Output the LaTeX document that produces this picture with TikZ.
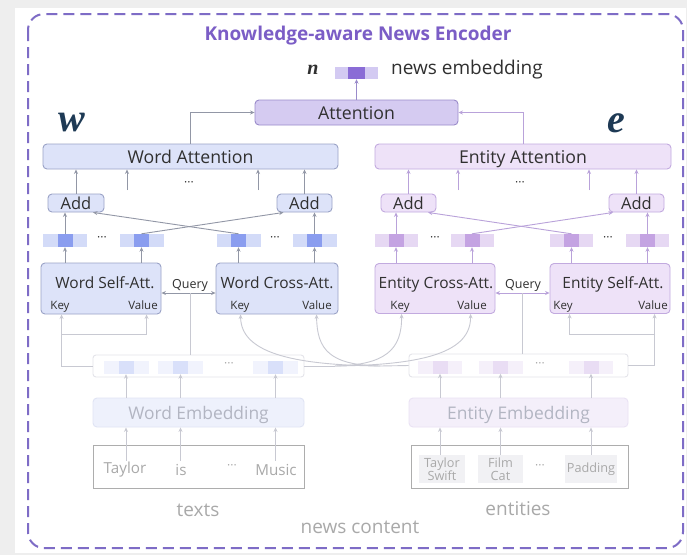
\documentclass[tikz,border=0pt]{standalone}
\usepackage{fontspec}
\setmainfont{Open Sans}
\newfontfamily\symserif{Liberation Serif}
\usetikzlibrary{arrows.meta,calc}

\definecolor{bgray}{HTML}{EEEEEE}
\definecolor{framec}{HTML}{7E6CC6}
\definecolor{titlec}{HTML}{7B5DC6}
\definecolor{txt}{HTML}{303030}
\definecolor{symc}{HTML}{1E3A55}
\definecolor{wordfill}{HTML}{DDE3F9}
\definecolor{worddraw}{HTML}{9AA2C6}
\definecolor{entfill}{HTML}{EEE2F8}
\definecolor{entdraw}{HTML}{C2AADF}
\definecolor{attfill}{HTML}{D5CBF1}
\definecolor{attdraw}{HTML}{9A8BCA}
\definecolor{wvl}{HTML}{D3DBF8}
\definecolor{wvd}{HTML}{8A9DEF}
\definecolor{evl}{HTML}{E6D8F3}
\definecolor{evd}{HTML}{C4A3E2}
\definecolor{nvl}{HTML}{D3CAF2}
\definecolor{nvd}{HTML}{8A6CD6}
\definecolor{wline}{HTML}{9297A6}
\definecolor{eline}{HTML}{B9A2DA}
\definecolor{fwvl}{HTML}{F1F3FD}
\definecolor{fwvd}{HTML}{D9E0FA}
\definecolor{fevl}{HTML}{F5F0FA}
\definecolor{fevd}{HTML}{E9DDF4}
\definecolor{frow}{HTML}{E4E4EA}
\definecolor{fwembfill}{HTML}{EEF1FC}
\definecolor{fwembdraw}{HTML}{E0E4F4}
\definecolor{feembfill}{HTML}{F4EFFA}
\definecolor{feembdraw}{HTML}{EAE2F4}
\definecolor{fembtxt}{HTML}{B2B5C2}
\definecolor{ftxtbox}{HTML}{ADADAD}
\definecolor{ftxt}{HTML}{A9A9A9}
\definecolor{fline}{HTML}{C8C9D2}
\definecolor{fcell}{HTML}{F1F1F4}

\tikzset{
  fs/.style={font=\fontsize{#1}{#1}\selectfont},
  tip/.style={-{Stealth[length=4.5pt,width=4pt]}},
  boxtext/.style={text height=13pt, text depth=0pt},
  wbox/.style={draw=worddraw, fill=wordfill, rounded corners=4pt, line width=0.9pt,
    inner sep=0pt, text=txt, boxtext},
  ebox/.style={draw=entdraw, fill=entfill, rounded corners=4pt, line width=0.9pt,
    inner sep=0pt, text=txt, boxtext},
  abox/.style={draw=attdraw, fill=attfill, rounded corners=4pt, line width=0.9pt,
    inner sep=0pt, text=txt, boxtext},
  vbar/.style={fill=#1, inner sep=0pt, minimum height=13pt, minimum width=44pt},
  vsq/.style={fill=#1, inner sep=0pt, minimum height=13pt, minimum width=15pt},
  dots/.style={inner sep=0pt, fs=12, text=#1},
  warr/.style={draw=wline, line width=0.9pt, tip},
  earr/.style={draw=eline, line width=0.9pt, tip},
  farr/.style={draw=fline, line width=0.9pt, tip},
  fln/.style={draw=fline, line width=0.9pt},
  lbl/.style={inner sep=0pt, text=txt, text height=11pt, text depth=0pt},
  kv/.style={inner sep=0pt, text=txt, fs=11.5, text height=8.3pt, text depth=0pt},
  faint/.style={inner sep=0pt, text=ftxt},
}

\begin{document}
\begin{tikzpicture}[x=1pt,y=-1pt]
\useasboundingbox (0,0) rectangle (687,555);
\fill[bgray] (0,0) rectangle (687,555);
\fill[white] (15,8) rectangle (686,553);
\draw[framec, line width=2pt, dash pattern=on 11pt off 6pt, rounded corners=16pt]
  (28,14) rectangle (683,548);

% ---------- header ----------
\node[inner sep=0pt, text=titlec, font=\fontsize{19}{19}\selectfont\bfseries]
  (title) at (358,36) {Knowledge-aware News Encoder};
\node[vbar=nvl, minimum width=43pt, minimum height=12pt] (nv) at (356.5,73) {};
\node[vsq=nvd, minimum width=17pt, minimum height=12pt] (nvd) at (nv) {};
\node[inner sep=0pt, text=txt, font=\symserif\bfseries\itshape\fontsize{20}{20}\selectfont]
  (nsym) at (313,70) {n};
\node[inner sep=0pt, text=txt, anchor=west, fs=19] (nlab) at (391,70) {news embedding};
\node[abox, minimum width=203pt, minimum height=25pt, fs=17.7] (att) at (356.5,112.5) {Attention};

\node[inner sep=0pt, text=symc, font=\symserif\bfseries\itshape\fontsize{40}{40}\selectfont]
  (wsym) at (72,123) {w};
\node[inner sep=0pt, text=symc, font=\symserif\bfseries\itshape\fontsize{40}{40}\selectfont]
  (esym) at (616,123) {e};

% ---------- attention over the two branches ----------
\node[wbox, minimum width=295pt, minimum height=25pt, fs=17.7] (watt) at (190.5,156.5) {Word Attention};
\node[ebox, minimum width=296pt, minimum height=25pt, fs=17.7] (eatt) at (523,156.5) {Entity Attention};

\draw[warr] (watt.north) |- (att.west);
\draw[earr] (eatt.north) |- (att.east);
\draw[draw=attdraw, line width=0.9pt, tip] (att.north) -- (nv.south);

% ---------- add blocks ----------
\node[wbox, minimum width=56pt, minimum height=18pt, fs=16.5] (addWL) at (76,203) {Add};
\node[wbox, minimum width=55pt, minimum height=18pt, fs=16.5] (addWR) at (304.5,203) {Add};
\node[ebox, minimum width=55pt, minimum height=18pt, fs=16.5] (addEL) at (408.5,203) {Add};
\node[ebox, minimum width=55pt, minimum height=18pt, fs=16.5] (addER) at (636.5,203) {Add};

\draw[warr] (addWL.north) -- (addWL.north |- watt.south);
\draw[warr] (addWR.north) -- (addWR.north |- watt.south);
\draw[earr] (addEL.north) -- (addEL.north |- eatt.south);
\draw[earr] (addER.north) -- (addER.north |- eatt.south);

\coordinate (ws1) at (127,190);
\coordinate (ws2) at (258,190);
\coordinate (es1) at (458,190);
\coordinate (es2) at (589,190);
\draw[warr] (ws1) -- (ws1 |- watt.south);
\draw[warr] (ws2) -- (ws2 |- watt.south);
\draw[earr] (es1) -- (es1 |- eatt.south);
\draw[earr] (es2) -- (es2 |- eatt.south);
\node[dots=txt] (wd0) at (189,184) {···};
\node[dots=txt] (ed0) at (520,184) {···};

% ---------- per-token vectors ----------
\node[vbar=wvl] (wv1) at (65,240.5) {};    \node[vsq=wvd] (wv1d) at (wv1) {};
\node[vbar=wvl] (wv2) at (141.5,240.5) {}; \node[vsq=wvd] (wv2d) at (wv2) {};
\node[vbar=wvl] (wv3) at (238.5,240.5) {}; \node[vsq=wvd] (wv3d) at (wv3) {};
\node[vbar=wvl] (wv4) at (314.5,240.5) {}; \node[vsq=wvd] (wv4d) at (wv4) {};
\node[dots=txt] (wd1) at (102,239) {···};
\node[dots=txt] (wd2) at (275,239) {···};

\node[vbar=evl, minimum width=43pt] (ev1) at (396,240.5) {};   \node[vsq=evd] (ev1d) at (ev1) {};
\node[vbar=evl, minimum width=43pt] (ev2) at (472,240.5) {};   \node[vsq=evd] (ev2d) at (ev2) {};
\node[vbar=evl, minimum width=43pt] (ev3) at (571.5,240.5) {}; \node[vsq=evd] (ev3d) at (ev3) {};
\node[vbar=evl, minimum width=43pt] (ev4) at (647.5,240.5) {}; \node[vsq=evd] (ev4d) at (ev4) {};
\node[dots=txt] (ed1) at (435,239) {···};
\node[dots=txt] (ed2) at (608,239) {···};

\draw[warr] (wv1.north) -- (wv1.north |- addWL.south);
\draw[warr] (wv4.north) -- (wv4.north |- addWR.south);
\draw[warr] (wv3.north) -- ($(addWL.south)+(17,0)$);
\draw[warr] (wv2.north) -- ($(addWR.south)+(-21,0)$);
\draw[earr] (ev1.north) -- (ev1.north |- addEL.south);
\draw[earr] (ev4.north) -- (ev4.north |- addER.south);
\draw[earr] (ev3.north) -- ($(addEL.south)+(19.5,0)$);
\draw[earr] (ev2.north) -- ($(addER.south)+(-23.5,0)$);

% ---------- self / cross attention blocks ----------
\node[wbox, minimum width=120pt, minimum height=51pt] (wself) at (101,288.5) {};
\node[wbox, minimum width=122pt, minimum height=51pt] (wcross) at (277,288.5) {};
\node[ebox, minimum width=120pt, minimum height=50pt] (ecross) at (435,288.5) {};
\node[ebox, minimum width=120pt, minimum height=50pt] (eself) at (610,288.5) {};

\node[lbl, fs=15.5] (wselft) at (105,283) {Word Self-Att.};
\node[lbl, fs=15.5] (wcrosst) at (277,283) {Word Cross-Att.};
\node[lbl, fs=15.5] (ecrosst) at (436,283) {Entity Cross-Att.};
\node[lbl, fs=15.5] (eselft) at (613,283) {Entity Self-Att.};
\node[kv] (wsk) at (60,305) {Key};   \node[kv] (wsv) at (143,305) {Value};
\node[kv] (wck) at (240,305) {Key};  \node[kv] (wcv) at (317,305) {Value};
\node[kv] (eck) at (400,305) {Key};  \node[kv] (ecv) at (472,305) {Value};
\node[kv] (esk) at (563,305) {Key};  \node[kv] (esv) at (653,305) {Value};

\draw[warr] (wv1.south |- wself.north) -- (wv1.south);
\draw[warr] (wv2.south |- wself.north) -- (wv2.south);
\draw[warr] (wv3.south |- wcross.north) -- (wv3.south);
\draw[warr] (wv4.south |- wcross.north) -- (wv4.south);
\draw[earr] (ev1.south |- ecross.north) -- (ev1.south);
\draw[earr] (ev2.south |- ecross.north) -- (ev2.south);
\draw[earr] (ev3.south |- eself.north) -- (ev3.south);
\draw[earr] (ev4.south |- eself.north) -- (ev4.south);

% query links
\coordinate (qw) at (190.5,293);
\coordinate (qe) at (522.5,293);
\node[lbl, fs=12.5, text height=9pt] (qwl) at (190,284) {Query};
\node[lbl, fs=12.5, text height=9pt] (qel) at (523,284) {Query};
\draw[draw=wline, line width=0.9pt, {Stealth[length=4.5pt,width=4pt]}-{Stealth[length=4.5pt,width=4pt]}]
  (wself.east |- qw) -- (wcross.west |- qw);
\draw[draw=eline, line width=0.9pt, {Stealth[length=4.5pt,width=4pt]}-{Stealth[length=4.5pt,width=4pt]}]
  (ecross.east |- qe) -- (eself.west |- qe);

% ---------- embedding layers ----------
\node[draw=frow, fill=white, rounded corners=3pt, line width=0.9pt, minimum width=211pt,
  minimum height=22pt, inner sep=0pt] (wrow) at (198.5,366) {};
\node[vbar=fwvl, minimum width=45pt] (fwv1) at (126,367.5) {};   \node[vsq=fwvd] (fwv1d) at (fwv1) {};
\node[vbar=fwvl, minimum width=45pt] (fwv2) at (180.5,367.5) {}; \node[vsq=fwvd] (fwv2d) at (fwv2) {};
\node[vbar=fwvl, minimum width=45pt] (fwv3) at (275.5,367.5) {}; \node[vsq=fwvd] (fwv3d) at (fwv3) {};
\node[dots=ftxt] (fwd) at (229,365) {···};

\node[draw=frow, fill=white, rounded corners=3pt, line width=0.9pt, minimum width=219pt,
  minimum height=23pt, inner sep=0pt] (erow) at (518.5,365.5) {};
\node[vbar=fevl] (fev1) at (440,367) {};   \node[vsq=fevd] (fev1d) at (fev1) {};
\node[vbar=fevl] (fev2) at (500.5,367) {}; \node[vsq=fevd] (fev2d) at (fev2) {};
\node[vbar=fevl] (fev3) at (591,367) {};   \node[vsq=fevd] (fev3d) at (fev3) {};
\node[dots=ftxt] (fed) at (540,365) {···};

\node[draw=fwembdraw, fill=fwembfill, rounded corners=4pt, line width=0.9pt, minimum width=211pt,
  minimum height=29pt, inner sep=0pt, text=fembtxt, fs=17.4, boxtext] (wemb) at (198.5,412.5) {Word Embedding};
\node[draw=feembdraw, fill=feembfill, rounded corners=4pt, line width=0.9pt, minimum width=219pt,
  minimum height=29pt, inner sep=0pt, text=fembtxt, fs=17.4, boxtext] (eemb) at (518.5,412.5) {Entity Embedding};

% ---------- raw inputs ----------
\node[draw=ftxtbox, line width=1pt, minimum width=211pt, minimum height=43pt, inner sep=0pt]
  (wtxt) at (198.5,466.5) {};
\node[faint, fs=15.2] (tw1) at (125,470) {Taylor};
\node[faint, fs=15.2] (tw2) at (181,470) {is};
\node[dots=ftxt] (tw3) at (232,467) {···};
\node[faint, fs=15.2] (tw4) at (276,470) {Music};

\node[draw=ftxtbox, line width=1pt, minimum width=217pt, minimum height=43pt, inner sep=0pt]
  (etxt) at (519.5,466.5) {};
\node[fill=fcell, minimum width=46pt, minimum height=28pt, inner sep=0pt, text=ftxt,
  align=center, font=\fontsize{12.7}{13.5}\selectfont] (te1) at (442,469) {Taylor\\Swift};
\node[fill=fcell, minimum width=45pt, minimum height=28pt, inner sep=0pt, text=ftxt,
  align=center, font=\fontsize{12.7}{13.5}\selectfont] (te2) at (500.5,469) {Film\\Cat};
\node[dots=ftxt] (te3) at (540,467) {···};
\node[fill=fcell, minimum width=52pt, minimum height=28pt, inner sep=0pt, text=ftxt,
  fs=12.7] (te4) at (591,469) {Padding};

\node[faint, fs=19] (texts) at (198,510) {texts};
\node[faint, fs=19] (ents) at (518,509) {entities};
\node[faint, fs=19] (newsc) at (360,527) {news content};

% tokens -> embedding -> vectors
\draw[farr] ($(fwv1.south |- wtxt.north)+(0,16)$) -- (fwv1.south |- wemb.south);
\draw[farr] ($(fwv2.south |- wtxt.north)+(0,16)$) -- (fwv2.south |- wemb.south);
\draw[farr] ($(fwv3.south |- wtxt.north)+(0,16)$) -- (fwv3.south |- wemb.south);
\draw[farr] (fwv1.south |- wemb.north) -- (fwv1.south);
\draw[farr] (fwv2.south |- wemb.north) -- (fwv2.south);
\draw[farr] (fwv3.south |- wemb.north) -- (fwv3.south);

\draw[farr] (fev1.south |- te1.north) -- (fev1.south |- eemb.south);
\draw[farr] (fev2.south |- te2.north) -- (fev2.south |- eemb.south);
\draw[farr] (fev3.south |- te4.north) -- (fev3.south |- eemb.south);
\draw[farr] (fev1.south |- eemb.north) -- (fev1.south);
\draw[farr] (fev2.south |- eemb.north) -- (fev2.south);
\draw[farr] (fev3.south |- eemb.north) -- (fev3.south);

% embeddings -> self attention (key, value)
\coordinate (wskey) at ($(wself.south west)+(21,0)$);
\coordinate (wsval) at ($(wself.south west)+(106,0)$);
\coordinate (eskey) at ($(eself.south west)+(20,0)$);
\coordinate (esval) at ($(eself.south west)+(105,0)$);
\coordinate (wj) at (62,334);
\coordinate (ej) at (655,334);
\draw[farr] (wrow.west) -| (wskey);
\draw[farr] (wj) -| (wsval);
\draw[farr] (erow.east) -| (esval);
\draw[farr] (ej) -| (eskey);

% queries
\draw[fln] (qw) -- (qw |- wrow.north);
\draw[fln] (qe) -- (qe |- erow.north);

% embeddings -> cross attention of the other branch (key, value)
\coordinate (wckey) at ($(wcross.south west)+(25,0)$);
\coordinate (wcval) at ($(wcross.south west)+(101,0)$);
\coordinate (eckey) at ($(ecross.south west)+(27,0)$);
\coordinate (ecval) at ($(ecross.south west)+(96,0)$);
\coordinate (wc) at (335,366);
\coordinate (ec) at (380,366);
\draw[fln] (wrow.east) -- (wc);
\draw[fln] (erow.west) -- (ec);
\draw[farr] (wc) .. controls (385,365) and (402,350) .. (eckey);
\draw[farr] (wc) .. controls (425,365) and (471,352) .. (ecval);
\draw[farr] (ec) .. controls (330,365) and (317,350) .. (wcval);
\draw[farr] (ec) .. controls (290,365) and (241,352) .. (wckey);
\end{tikzpicture}
\end{document}
